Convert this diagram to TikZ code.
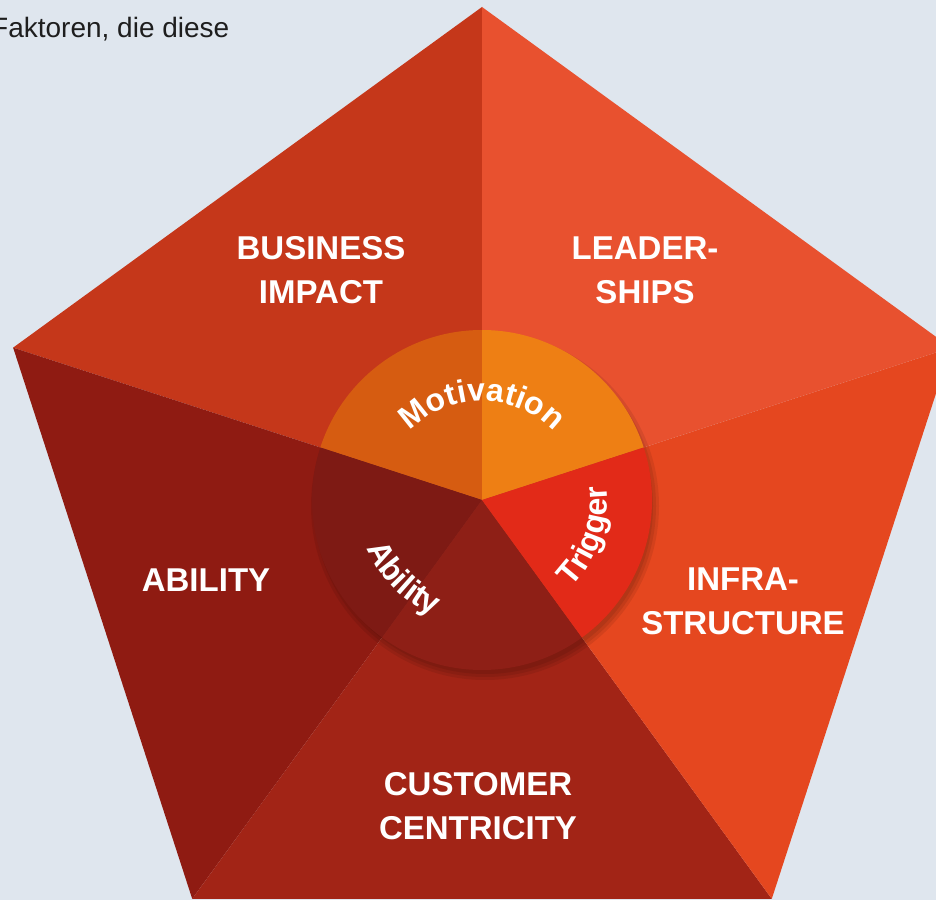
\documentclass[tikz,border=0pt]{standalone}
\usepackage{fontspec}
\setmainfont{Liberation Sans}
\usetikzlibrary{calc,decorations.text}
\definecolor{bgc}{HTML}{DFE6EE}
\definecolor{biz}{HTML}{C5371A}
\definecolor{lead}{HTML}{E8512F}
\definecolor{infra}{HTML}{E5471F}
\definecolor{cust}{HTML}{A22416}
\definecolor{abil}{HTML}{8F1B12}
\definecolor{motl}{HTML}{D65C11}
\definecolor{motr}{HTML}{EE7F14}
\definecolor{trig}{HTML}{E22A18}
\definecolor{abl}{HTML}{7E1A14}
\definecolor{abr}{HTML}{8E1F16}
\definecolor{ink}{HTML}{1E1E1E}
\newcommand{\pietxt}{\bfseries\fontsize{32}{32}\selectfont}
\begin{document}
\begin{tikzpicture}[x=1pt, y=1pt,
    lbl/.style = {text=white, align=center, font=\bfseries\fontsize{33}{44}\selectfont},
    arctext/.style = {decorate, decoration={text along path, text align=center, text color=white, text={|\pietxt|#1}}}]
    \clip (0,0) rectangle (936,900);
    \fill[bgc] (0,0) rectangle (936,900);
    \coordinate (c) at (482,400);
    \foreach \i/\a in {1/90,2/162,3/234,4/306,5/18}
      \coordinate (p\i) at ($(c)+(\a:493pt)$);
      %
    \fill[biz] (c) -- (p1) -- (p2) -- cycle;
    \fill[abil] (c) -- (p2) -- (p3) -- cycle;
    \fill[cust] (c) -- (p3) -- (p4) -- cycle;
    \fill[infra] (c) -- (p4) -- (p5) -- cycle;
    \fill[lead] (c) -- (p5) -- (p1) -- cycle;
      %
    \foreach \s in {0,3,6}
      \fill[black, opacity=0.08] ($(c)+(3,-6)$) circle[radius=168pt+\s pt];
    \fill[motl] (c) -- ++(90:170pt) arc[start angle=90, end angle=162, radius=170pt] -- cycle;
    \fill[motr] (c) -- ++(18:170pt) arc[start angle=18, end angle=90, radius=170pt] -- cycle;
    \fill[abl] (c) -- ++(162:170pt) arc[start angle=162, end angle=234, radius=170pt] -- cycle;
    \fill[abr] (c) -- ++(234:170pt) arc[start angle=234, end angle=306, radius=170pt] -- cycle;
    \fill[trig] (c) -- ++(-54:170pt) arc[start angle=-54, end angle=18, radius=170pt] -- cycle;
      %
    \path[arctext=Motivation] ($(c)+(160:99pt)$) arc[start angle=160, end angle=20, radius=99pt];
    \path[arctext=Trigger] ($(c)+(-89:125pt)$) arc[start angle=-89, end angle=51, radius=125pt];
    \path[arctext=Ability] ($(c)+(155:125pt)$) arc[start angle=155, end angle=295, radius=125pt];
      %
    \node[lbl] (bizimpact) at (321,630) {BUSINESS\\IMPACT};
    \node[lbl] (leadership) at (645,630) {LEADER-\\SHIPS};
    \node[lbl] (ability) at (206,320) {ABILITY};
    \node[lbl] (infrastructure) at (743,299) {INFRA-\\STRUCTURE};
    \node[lbl] (customer) at (478,94) {CUSTOMER\\CENTRICITY};
    \node[anchor=base west, text=ink, font=\fontsize{28}{28}\selectfont, inner sep=0pt] (intro) at (-9,862) {Faktoren, die diese};
  \end{tikzpicture}
\end{document}
